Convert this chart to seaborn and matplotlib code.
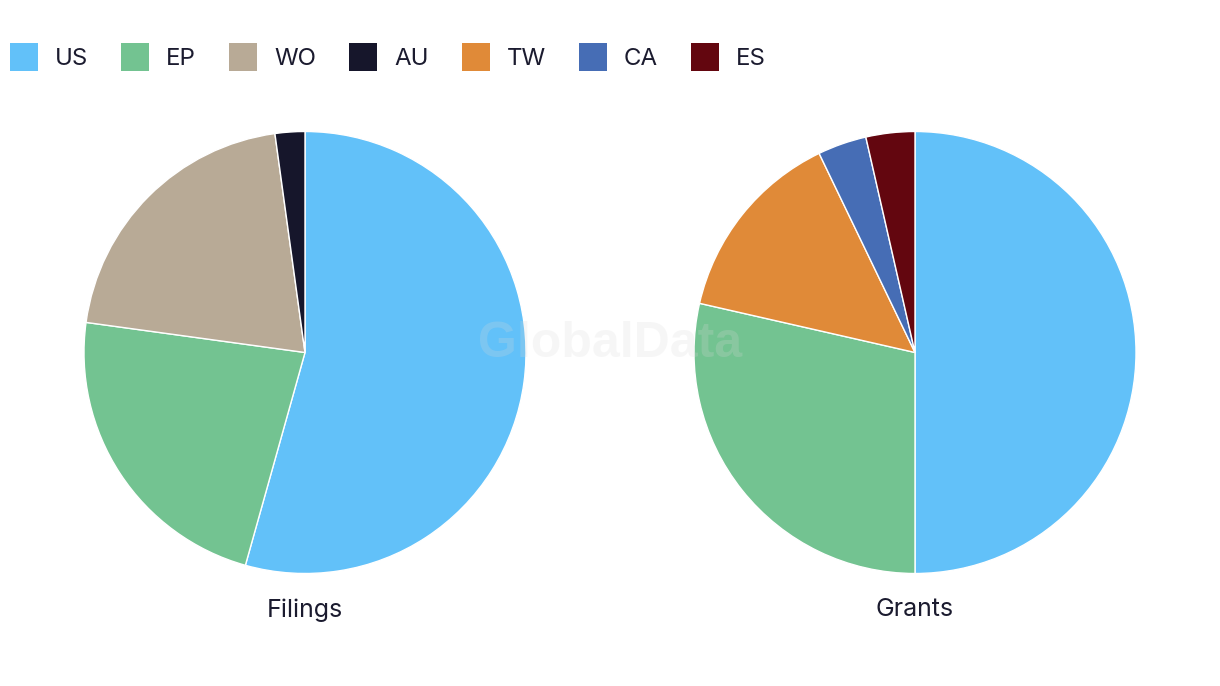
import matplotlib
matplotlib.use("Agg")
import matplotlib.pyplot as plt
from matplotlib.patches import Patch
import seaborn as sns

# Data
filing_labels = ["US", "EP", "WO", "AU"]
filing_values = [50, 21, 19, 2]
grant_labels = ["US", "EP", "TW", "CA", "ES"]
grant_values = [14, 8, 4, 1, 1]
legend_labels = ["US", "EP", "WO", "AU", "TW", "CA", "ES"]
titles = ["Filings", "Grants"]

colors = {
    "US": "#62C1F9",
    "EP": "#73C391",
    "WO": "#B8AA96",
    "AU": "#16162B",
    "TW": "#E08A38",
    "CA": "#466DB5",
    "ES": "#63060F",
}

sns.set_theme(style="white")
plt.rcParams["font.family"] = ["Inter", "DejaVu Sans"]
text_color = "#1B1B2F"

W, H = 1220, 686
fig = plt.figure(figsize=(W / 100, H / 100), dpi=100)
fig.patch.set_facecolor("white")

R = 221
centers = [(305, 352.5), (915, 352.5)]
datasets = [(filing_labels, filing_values), (grant_labels, grant_values)]

for (cx, cy), (labs, vals), title in zip(centers, datasets, titles):
    ax = fig.add_axes([(cx - R) / W, (H - cy - R) / H, 2 * R / W, 2 * R / H])
    pal = sns.color_palette([colors[l] for l in labs])
    ax.pie(vals, colors=pal, startangle=90, counterclock=False, radius=1,
           wedgeprops=dict(edgecolor="white", linewidth=1.0))
    ax.set_xlim(-1, 1)
    ax.set_ylim(-1, 1)
    ax.set_aspect("auto")
    ax.axis("off")
    fig.text(cx / W, 1 - 610 / H, title, ha="center", va="center",
             fontsize=18, color=text_color)

# Watermark
fig.text(610 / W, 1 - 344 / H, "GlobalData", ha="center", va="center",
         fontsize=36, fontweight="bold", color="#d9d9d9", alpha=0.22,
         family=["Liberation Sans", "DejaVu Sans"])

handles = [Patch(facecolor=colors[l], edgecolor="none", label=l) for l in legend_labels]
fs = 17.3
px = fs * 100 / 72
hh = (28 / px - 0.245) / 0.65
leg = fig.legend(handles=handles, loc="upper left", bbox_to_anchor=(10 / W, 1 - 43 / H),
                 ncol=7, frameon=False, fontsize=fs, handlelength=28 / px,
                 handleheight=hh, handletextpad=17 / px, columnspacing=33 / px,
                 borderpad=0, borderaxespad=0)
for t in leg.get_texts():
    t.set_color(text_color)

fig.savefig("out.png", dpi=100, facecolor="white")
